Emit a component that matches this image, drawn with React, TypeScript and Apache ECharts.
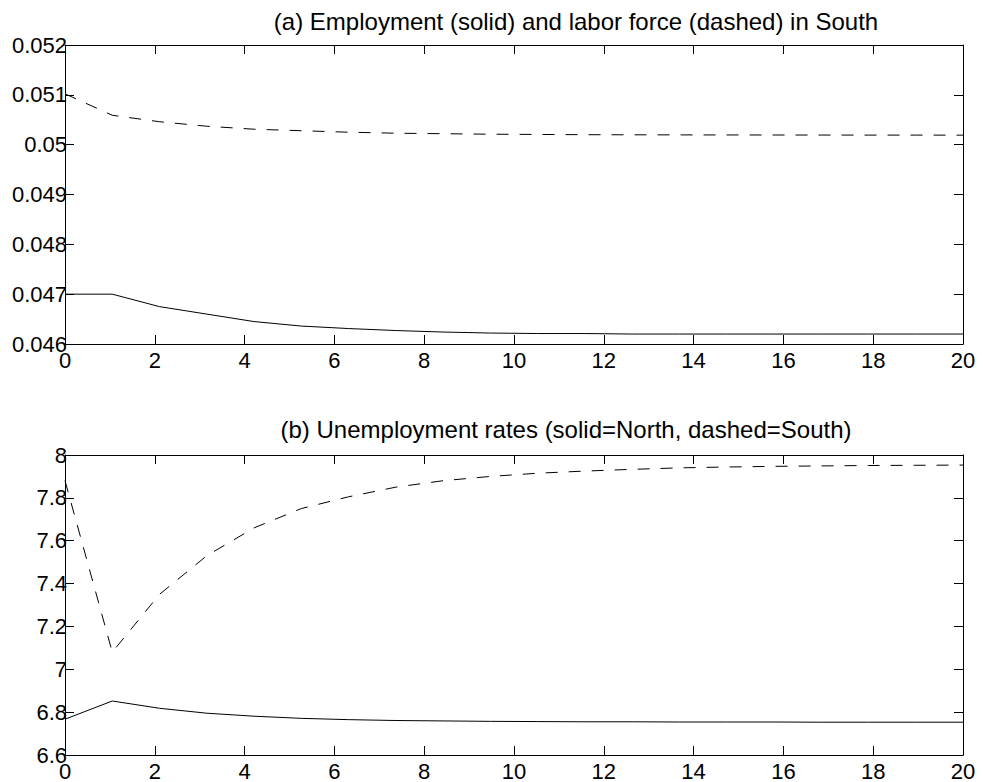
import React, { useEffect, useRef } from "react";
import * as echarts from "echarts";

const periods = [0, 1.0526, 2.1053, 3.1579, 4.2105, 5.2632, 6.3158, 7.3684, 8.4211, 9.4737, 10.5263, 11.5789, 12.6316, 13.6842, 14.7368, 15.7895, 16.8421, 17.8947, 18.9474, 20];

const employmentSouth = [0.047, 0.047, 0.04675, 0.0466, 0.04645, 0.04636, 0.04631, 0.04627, 0.04624, 0.04622, 0.04621, 0.04621, 0.0462, 0.0462, 0.0462, 0.0462, 0.0462, 0.0462, 0.0462, 0.0462];
const laborForceSouth = [0.05102, 0.05059, 0.05046, 0.05037, 0.05031, 0.05028, 0.05025, 0.05023, 0.05022, 0.05021, 0.050205, 0.0502, 0.050198, 0.050196, 0.050195, 0.050194, 0.050193, 0.050192, 0.050192, 0.050191];

const unempNorth = [6.767, 6.852, 6.818, 6.795, 6.781, 6.771, 6.765, 6.761, 6.759, 6.757, 6.756, 6.755, 6.755, 6.754, 6.754, 6.754, 6.753, 6.753, 6.753, 6.753];
const unempSouth = [7.88, 7.08, 7.35, 7.53, 7.66, 7.75, 7.805, 7.85, 7.88, 7.9, 7.915, 7.925, 7.933, 7.94, 7.944, 7.947, 7.949, 7.951, 7.952, 7.953];

const titleA = "(a) Employment (solid) and labor force (dashed) in South";
const titleB = "(b) Unemployment rates (solid=North, dashed=South)";

const FONT = '"Liberation Sans", Arial, Helvetica, sans-serif';

export default function App() {
  const ref = useRef<HTMLDivElement>(null);
  useEffect(() => {
    if (!ref.current) return;
    const chart = echarts.init(ref.current, undefined, { renderer: "svg" });
    const pair = (ys: number[]) => periods.map((x, i) => [x, ys[i]]);

    const xAxisBase = (gridIndex: number, position: "bottom" | "top", labels: boolean) => ({
      type: "value",
      gridIndex,
      position,
      min: 0,
      max: 20,
      interval: 2,
      axisLine: { show: true, onZero: false, lineStyle: { color: "#000", width: 1 } },
      axisTick: { show: true, inside: true, length: 9, lineStyle: { color: "#000", width: 1 } },
      axisLabel: labels
        ? { show: true, margin: 5, color: "#000", fontSize: 22, fontFamily: FONT }
        : { show: false },
      splitLine: { show: false },
    });

    const yAxisBase = (
      gridIndex: number,
      position: "left" | "right",
      labels: boolean,
      min: number,
      max: number,
      interval: number,
      digits: number
    ) => ({
      type: "value",
      gridIndex,
      position,
      min,
      max,
      interval,
      axisLine: { show: true, onZero: false, lineStyle: { color: "#000", width: 1 } },
      axisTick: { show: true, inside: true, length: 9, lineStyle: { color: "#000", width: 1 } },
      axisLabel: labels
        ? {
            show: true,
            margin: -2,
            color: "#000",
            fontSize: 22,
            fontFamily: FONT,
            formatter: (v: number) => String(parseFloat(v.toFixed(digits))),
          }
        : { show: false },
      splitLine: { show: false },
    });

    const lineSeries = (xi: number, yi: number, ys: number[], dashed: boolean) => ({
      type: "line",
      xAxisIndex: xi,
      yAxisIndex: yi,
      data: pair(ys),
      showSymbol: false,
      symbol: "none",
      lineStyle: { color: "#000", width: 1, type: dashed ? [12, 11] : "solid" },
      z: 5,
    });

    chart.setOption({
      animation: false,
      backgroundColor: "#fff",
      grid: [
        { left: 65, top: 45, width: 898, height: 299 },
        { left: 65, top: 455, width: 898, height: 300 },
      ],
      xAxis: [
        xAxisBase(0, "bottom", true),
        xAxisBase(0, "top", false),
        xAxisBase(1, "bottom", true),
        xAxisBase(1, "top", false),
      ],
      yAxis: [
        yAxisBase(0, "left", true, 0.046, 0.052, 0.001, 3),
        yAxisBase(0, "right", false, 0.046, 0.052, 0.001, 3),
        yAxisBase(1, "left", true, 6.6, 8, 0.2, 1),
        yAxisBase(1, "right", false, 6.6, 8, 0.2, 1),
      ],
      series: [
        lineSeries(0, 0, employmentSouth, false),
        lineSeries(0, 0, laborForceSouth, true),
        lineSeries(2, 2, unempNorth, false),
        lineSeries(2, 2, unempSouth, true),
      ],
      graphic: [
        {
          type: "text",
          x: 576,
          y: 21,
          style: {
            text: titleA,
            font: `24px ${FONT}`,
            fill: "#000",
            textAlign: "center",
            textVerticalAlign: "middle",
          },
        },
        {
          type: "text",
          x: 566,
          y: 429,
          style: {
            text: titleB,
            font: `24px ${FONT}`,
            fill: "#000",
            textAlign: "center",
            textVerticalAlign: "middle",
          },
        },
      ],
    });
    return () => chart.dispose();
  }, []);

  return (
    <div
      ref={ref}
      style={{ position: "fixed", left: 0, top: 0, width: 983, height: 782, background: "#fff" }}
    />
  );
}
